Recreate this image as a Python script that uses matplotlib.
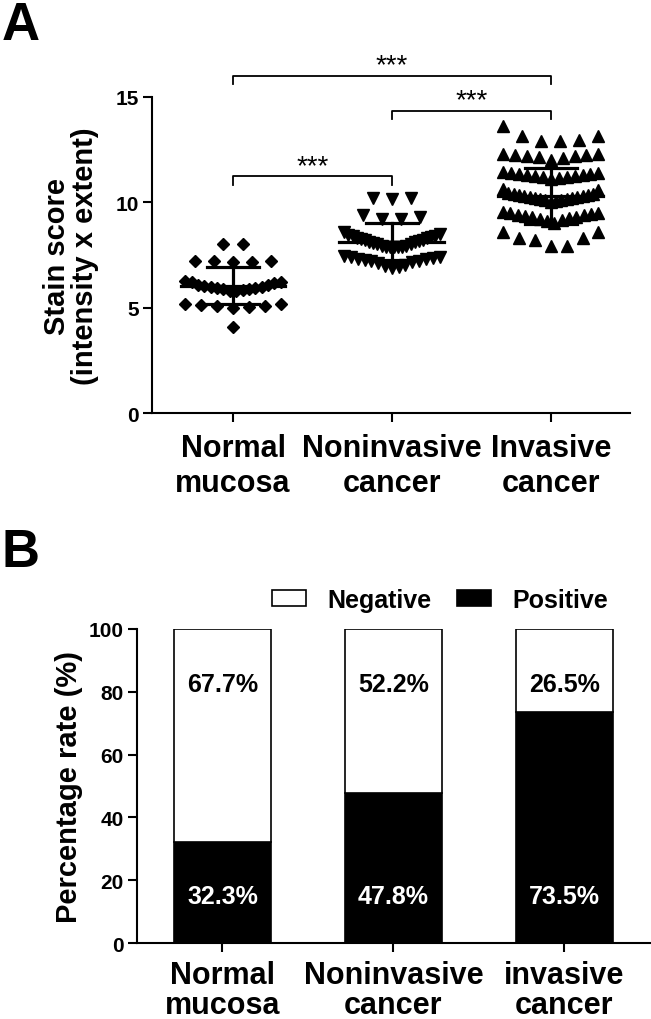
import matplotlib
matplotlib.use('Agg')
import matplotlib.pyplot as plt

plt.rcParams['font.family'] = ['Liberation Sans', 'DejaVu Sans']

# ---- panel A data (stain scores) ----
groupsA = ['Normal\nmucosa', 'Noninvasive\ncancer', 'Invasive\ncancer']
normalScores = [8.0, 8.0,
                7.2, 7.2, 7.2, 7.15, 7.15,
                6.25, 6.2, 6.2, 6.15, 6.1, 6.1, 6.05, 6.0, 6.0, 5.95, 5.95,
                5.9, 5.9, 5.85, 5.8, 5.8,
                5.2, 5.2, 5.15, 5.1, 5.1, 5.05, 5.0,
                4.1]
nonInvScores = [10.2, 10.2, 10.15,
                9.4, 9.3, 9.2, 9.2,
                8.6, 8.5, 8.45, 8.4, 8.4, 8.35, 8.3, 8.3, 8.25, 8.2, 8.2, 8.15,
                8.1, 8.1, 8.05, 8.0, 8.0, 7.95, 7.95, 7.9, 7.9, 7.9, 7.9, 7.9,
                7.45, 7.4, 7.4, 7.35, 7.3, 7.3, 7.25, 7.2, 7.2, 7.15, 7.1, 7.05,
                7.0, 6.95, 6.9]
invScores = [13.6, 13.15, 13.15, 12.95, 12.9, 12.9,
             12.3, 12.3, 12.25, 12.25, 12.2, 12.2, 12.15, 12.1, 12.0,
             11.45, 11.4, 11.4, 11.35, 11.35, 11.3, 11.3, 11.25, 11.25, 11.2,
             11.2, 11.15, 11.1,
             10.65, 10.6,
             10.45, 10.4, 10.4, 10.35, 10.35, 10.3, 10.3, 10.25, 10.25, 10.2,
             10.2, 10.15, 10.15, 10.1, 10.1, 10.05, 10.0,
             9.55, 9.5, 9.5, 9.45, 9.4, 9.4, 9.35, 9.3, 9.3, 9.25, 9.2, 9.15,
             9.1, 9.0,
             8.6, 8.6, 8.3, 8.3, 8.2, 7.95, 7.95]
meanScores = [6.05, 8.13, 10.3]
sdScores = [0.88, 0.88, 1.34]
markersA = ['D', 'v', '^']

sigPairs = [(0, 2), (1, 2), (0, 1)]
sigLevels = [16.0, 14.35, 11.24]
sigLabels = ['***', '***', '***']

# ---- panel B data ----
groupsB = ['Normal\nmucosa', 'Noninvasive\ncancer', 'invasive\ncancer']
positiveRate = [32.3, 47.8, 73.5]
negativeRate = [67.7, 52.2, 26.5]


def rowLayout(values, center, rowSpan=0.75, step=0.12, maxWidth=0.6):
    # prism-like rows: close values share a row, spread out around the centre
    vals = sorted(values, reverse=True)
    xs, ys = [], []
    i = 0
    while i < len(vals):
        top = vals[i]
        row = [v for v in vals[i:] if v > top - rowSpan + 1e-9]
        i += len(row)
        row = sorted(row)
        k = len(row)
        gap = step if k < 2 else min(step, maxWidth / (k - 1))
        slots = sorted(range(k), key=lambda j: (abs(j - (k - 1) / 2), -j))
        for v, j in zip(row, slots):
            xs.append(center + (j - (k - 1) / 2) * gap)
            ys.append(v)
    return xs, ys


fig = plt.figure(figsize=(6.51, 10.2), dpi=100)

# ================= panel A =================
axA = fig.add_axes([0.2335, 0.594, 0.7345, 0.31])
for gi, scores in enumerate([normalScores, nonInvScores, invScores]):
    xs, ys = rowLayout(scores, gi)
    axA.plot(xs, ys, linestyle='none', marker=markersA[gi],
             ms=8.5 if markersA[gi] != 'D' else 6.4, color='black', zorder=2)
    m, s = meanScores[gi], sdScores[gi]
    axA.plot([gi - 0.33, gi + 0.33], [m, m], color='black', lw=2.3, zorder=3)
    axA.plot([gi, gi], [m - s, m + s], color='black', lw=2.3, zorder=3)
    for yy in (m - s, m + s):
        axA.plot([gi - 0.165, gi + 0.165], [yy, yy], color='black', lw=2.3, zorder=3)

for (a, b), lvl, lab in zip(sigPairs, sigLevels, sigLabels):
    axA.plot([a, a, b, b], [lvl - 0.4, lvl, lvl, lvl - 0.4], color='black',
             lw=1.3, clip_on=False)
    axA.text((a + b) / 2, lvl + 0.15, lab, ha='center', va='baseline',
             fontsize=20)

axA.set_xlim(-0.51, 2.5)
axA.set_ylim(0, 15)
axA.set_yticks([0, 5, 10, 15])
axA.set_xticks([0, 1, 2])
axA.set_xticklabels(groupsA, fontsize=22, fontweight='bold', linespacing=1.2)
axA.set_ylabel('Stain score\n(intensity x extent)', fontsize=21,
               fontweight='bold', labelpad=12, linespacing=1.0)

# ================= panel B =================
axB = fig.add_axes([0.2104, 0.0745, 0.7896, 0.3079])
xb = [0, 1, 2]
axB.bar(xb, positiveRate, width=0.57, color='black', edgecolor='black',
        lw=1.2, label='Positive')
axB.bar(xb, negativeRate, width=0.57, bottom=positiveRate, color='white',
        edgecolor='black', lw=1.2, label='Negative')
for x, neg, pos in zip(xb, negativeRate, positiveRate):
    axB.text(x, 82.5, f'{neg}%', ha='center', va='center', fontsize=18,
             fontweight='bold', color='black')
    axB.text(x, 15, f'{pos}%', ha='center', va='center', fontsize=18,
             fontweight='bold', color='white')

axB.set_xlim(-0.5, 2.506)
axB.set_ylim(0, 100)
axB.set_yticks([0, 20, 40, 60, 80, 100])
axB.set_xticks(xb)
axB.set_xticklabels(groupsB, fontsize=22, fontweight='bold', linespacing=1.0)
axB.set_ylabel('Percentage rate (%)', fontsize=21, fontweight='bold',
               labelpad=4)

h, l = axB.get_legend_handles_labels()
fig.legend(h[::-1], l[::-1], loc='center', bbox_to_anchor=(0.676, 0.411),
           ncol=2, frameon=False, prop={'size': 18, 'weight': 'bold'},
           handlelength=1.36, handleheight=0.6, handletextpad=0.84,
           columnspacing=1.04)

for ax in (axA, axB):
    ax.spines['top'].set_visible(False)
    ax.spines['right'].set_visible(False)
    for sp in ('left', 'bottom'):
        ax.spines[sp].set_linewidth(1.5)
    ax.tick_params(axis='both', length=6.5, width=1.5, direction='out')
    ax.tick_params(axis='y', labelsize=15, pad=3)
    ax.tick_params(axis='x', pad=6)
    for t in ax.get_yticklabels():
        t.set_fontweight('bold')
axA.tick_params(axis='x', pad=8)

fig.text(0.002, 0.9608, 'A', fontsize=38, fontweight='bold', va='baseline')
fig.text(0.002, 0.444, 'B', fontsize=38, fontweight='bold', va='baseline')

fig.savefig('out.png', dpi=100)
